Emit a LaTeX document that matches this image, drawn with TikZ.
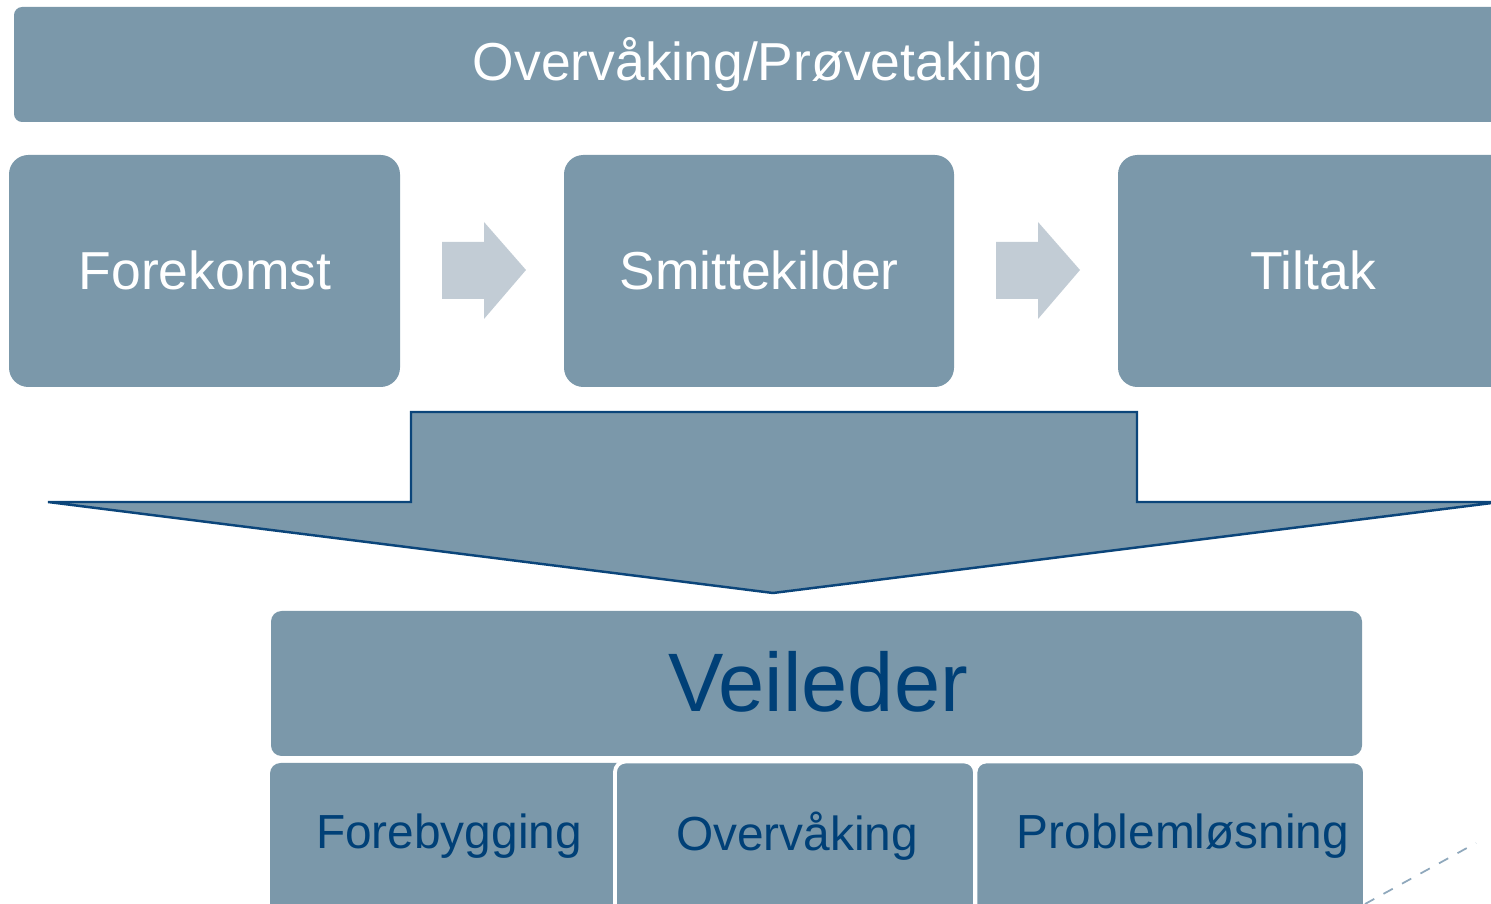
\documentclass[tikz,border=0pt]{standalone}
\usepackage{fontspec}
\setmainfont{Liberation Sans}
\definecolor{boxfill}{HTML}{7B98AA}
\definecolor{arrowfill}{HTML}{C2CCD5}
\definecolor{darkblue}{HTML}{004077}
\definecolor{outline}{HTML}{0B457A}
\definecolor{dashcol}{HTML}{8FA8BC}
\begin{document}
\begin{tikzpicture}[x=0.01cm,y=-0.01cm,
  panel/.style={fill=boxfill, rounded corners=#1},
  whitetxt/.style={text=white, font=\fontsize{15.2pt}{18pt}\selectfont, inner sep=0pt},
  bluetxt/.style={text=darkblue, font=\fontsize{13.6pt}{16pt}\selectfont, inner sep=0pt},
  flowarrow/.style={fill=arrowfill},
  subpanel/.style={fill=boxfill, draw=white, line width=1.1pt, rounded corners=3pt}
]
\useasboundingbox (0,0) rectangle (1491,904);
\clip (0,0) rectangle (1491,904);

% top bar
\fill[panel=2.3pt] (14,7) rectangle (1540,122);
\node[whitetxt] (top) at (758,65) {Overvåking/Prøvetaking};

% process boxes
\fill[panel=5.5pt] (9,155) rectangle (400,387);
\node[whitetxt] (fore) at (205,270) {Forekomst};
\fill[panel=5.5pt] (564,155) rectangle (954,387);
\node[whitetxt] (smitte) at (759,270) {Smittekilder};
\fill[panel=5.5pt] (1118,155) rectangle (1660,387);
\node[whitetxt] (tiltak) at (1313,270) {Tiltak};

% flow arrows
\coordinate (a1) at (442,242);
\fill[flowarrow] (a1) -- ++(42,0) -- ++(0,-20) -- ++(42,48) -- ++(-42,49) -- ++(0,-20) -- ++(-42,0) -- cycle;
\coordinate (a2) at (996,242);
\fill[flowarrow] (a2) -- ++(42,0) -- ++(0,-20) -- ++(42,48) -- ++(-42,49) -- ++(0,-20) -- ++(-42,0) -- cycle;

% big down arrow
\coordinate (tl) at (411,412);
\coordinate (tr) at (1137,412);
\coordinate (tip) at (773,593);
\filldraw[fill=boxfill, draw=outline, line width=0.7pt]
  (tl) -- (tr) -- (1137,502) -- (1500,502) -- (tip) -- (48,502) -- (411,502) -- cycle;

% Veileder
\fill[panel=3pt] (271,611) rectangle (1362,756);
\node[text=darkblue, font=\fontsize{23.6pt}{28pt}\selectfont, inner sep=0pt] (veil) at (818,682) {Veileder};

% sub boxes
\fill[panel=3pt] (270,763) rectangle (640,930);
\draw[subpanel] (615,761.5) rectangle (975,930);
\draw[subpanel] (975.5,761.5) rectangle (1365,930);
\node[bluetxt] (forebyg) at (449,836) {Forebygging};
\node[bluetxt] (overv) at (797,836) {Overvåking};
\node[bluetxt] (problem) at (1183,836) {Problemløsning};

% dashed line fragment
\coordinate (d1) at (1365,904);
\coordinate (d2) at (1476,843);
\draw[dashcol, dashed, line width=0.5pt] (d1) -- (d2);
\end{tikzpicture}
\end{document}
